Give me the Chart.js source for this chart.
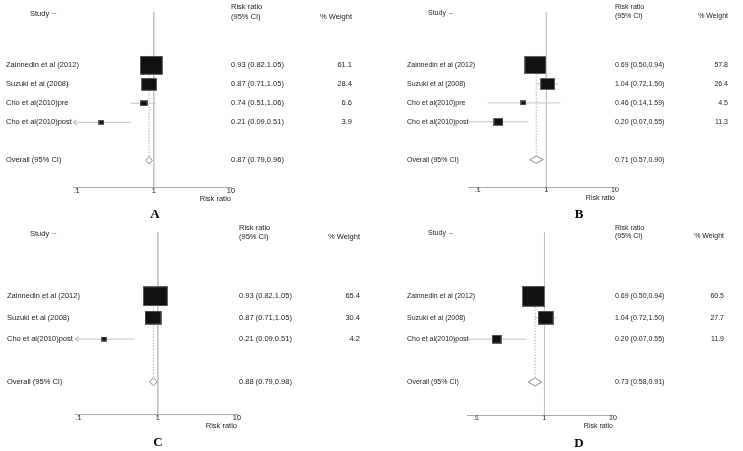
<!DOCTYPE html>
<html>
<head>
<meta charset="utf-8">
<script src="https://cdn.jsdelivr.net/npm/chart.js@4.4.1/dist/chart.umd.min.js"></script>
<style>
  body { margin: 0; background: #fff; }
  #wrap { position: relative; width: 743px; height: 451px; }
  canvas { position: absolute; }
</style>
</head>
<body>
<div id="wrap">
  <canvas id="pA" width="380" height="225" style="left:0;top:0"></canvas>
  <canvas id="pB" width="363" height="225" style="left:380px;top:0"></canvas>
  <canvas id="pC" width="380" height="226" style="left:0;top:225px"></canvas>
  <canvas id="pD" width="363" height="226" style="left:380px;top:225px"></canvas>
</div>
<script>
// ==================== DATA ====================
const tickValues = [0.1, 1, 10];
const tickLabels = ['.1', '1', '10'];
const overallLabel = 'Overall (95% CI)';

const studiesA = ['Zainnedin et al (2012)', 'Suzuki et al (2008)', 'Cho et al(2010)pre', 'Cho et al(2010)post'];
const rrA = [0.93, 0.87, 0.74, 0.21];
const lowA = [0.82, 0.71, 0.51, 0.09];
const highA = [1.05, 1.05, 1.06, 0.51];
const weightA = [61.1, 28.4, 6.6, 3.9];
const overallA = [0.87, 0.79, 0.96];

const studiesB = ['Zainnedin et al (2012)', 'Suzuki et al (2008)', 'Cho et al(2010)pre', 'Cho et al(2010)post'];
const rrB = [0.69, 1.04, 0.46, 0.20];
const lowB = [0.50, 0.72, 0.14, 0.07];
const highB = [0.94, 1.50, 1.59, 0.55];
const weightB = [57.8, 26.4, 4.5, 11.3];
const overallB = [0.71, 0.57, 0.90];

const studiesC = ['Zainnedin et al (2012)', 'Suzuki et al (2008)', 'Cho et al(2010)post'];
const rrC = [0.93, 0.87, 0.21];
const lowC = [0.82, 0.71, 0.09];
const highC = [1.05, 1.05, 0.51];
const weightC = [65.4, 30.4, 4.2];
const overallC = [0.88, 0.79, 0.98];

const studiesD = ['Zainnedin et al (2012)', 'Suzuki et al (2008)', 'Cho et al(2010)post'];
const rrD = [0.69, 1.04, 0.20];
const lowD = [0.50, 0.72, 0.07];
const highD = [0.94, 1.50, 0.55];
const weightD = [60.5, 27.7, 11.9];
const overallD = [0.73, 0.58, 0.91];

// ==================== PANEL LAYOUT ====================
const panels = [
  { id: 'pA', letter: 'A', studies: studiesA, rr: rrA, low: lowA, high: highA, weight: weightA, overall: overallA,
    area: [73, 231, 12, 187], xMin: 0.09, yRange: [-2.8, 6.4], font: 7.5,
    nameX: 6, ciX: 231, wtX: 352, studyX: 30, letterX: 155, letterY: 215, box: [2.94, 2.43], arrow: true },
  { id: 'pB', letter: 'B', studies: studiesB, rr: rrB, low: lowB, high: highB, weight: weightB, overall: overallB,
    area: [88, 235, 12, 186], xMin: 0.072, yRange: [-2.8, 6.45], font: 7,
    nameX: 27, ciX: 235, wtX: 348, studyX: 48, letterX: 199, letterY: 215, box: [2.85, 2.37], arrow: false },
  { id: 'pC', letter: 'C', studies: studiesC, rr: rrC, low: lowC, high: highC, weight: weightC, overall: overallC,
    area: [75, 237, 7, 189], xMin: 0.09, yRange: [-3, 5.5], font: 7.5,
    nameX: 7, ciX: 239, wtX: 360, studyX: 30, letterX: 158, letterY: 218, box: [3.09, 2.47], arrow: true },
  { id: 'pD', letter: 'D', studies: studiesD, rr: rrD, low: lowD, high: highD, weight: weightD, overall: overallD,
    area: [87, 233, 7, 189], xMin: 0.074, yRange: [-3, 5.55], font: 7,
    nameX: 27, ciX: 235, wtX: 344, studyX: 48, letterX: 199, letterY: 219, box: [3.0, 2.7], arrow: false }
];

const FONT = '"Liberation Sans", Arial, sans-serif';
const LINE_GREY = '#c4c4c4';
const TEXT = '#222';

// black study box, sized from the weight
function boxImage(w, h) {
  const c = document.createElement('canvas');
  c.width = Math.max(2, Math.round(w));
  c.height = Math.max(2, Math.round(h));
  const g = c.getContext('2d');
  g.fillStyle = '#666';
  g.fillRect(0, 0, c.width, c.height);
  g.fillStyle = '#111';
  g.fillRect(1, 1, c.width - 2, c.height - 2);
  return c;
}

// open "<" marker for a truncated CI
function chevronImage() {
  const c = document.createElement('canvas');
  c.width = 10; c.height = 7;
  const g = c.getContext('2d');
  g.strokeStyle = '#aaa';
  g.lineWidth = 1;
  g.beginPath();
  g.moveTo(9, 1); g.lineTo(5, 3.5); g.lineTo(9, 6);
  g.stroke();
  return c;
}

function fmtCI(r, lo, hi) {
  return r.toFixed(2) + ' (' + lo.toFixed(2) + ',' + hi.toFixed(2) + ')';
}

function textPlugin(p) {
  return {
    id: 'forestText' + p.letter,
    afterDraw(chart) {
      const ctx = chart.ctx;
      const y = chart.scales.y;
      const top = chart.chartArea.top;
      ctx.save();
      ctx.font = p.font + 'px ' + FONT;
      ctx.fillStyle = TEXT;
      ctx.textBaseline = 'middle';

      // headers
      ctx.textAlign = 'left';
      ctx.fillText('Study', p.studyX, top + 1.5);
      const sw = ctx.measureText('Study').width;
      ctx.strokeStyle = '#aaa';
      ctx.lineWidth = 1;
      ctx.beginPath();
      ctx.moveTo(p.studyX + sw + 3, top + 1.5);
      ctx.lineTo(p.studyX + sw + 7, top + 1.5);
      ctx.stroke();
      ctx.fillText('Risk ratio', p.ciX, Math.max(top - 5, 3));
      ctx.fillText('(95% CI)', p.ciX, top + 4.5);
      ctx.textAlign = 'right';
      ctx.fillText('% Weight', p.wtX, top + 4.5);

      // study rows
      p.studies.forEach((s, i) => {
        const py = y.getPixelForValue(i);
        ctx.textAlign = 'left';
        ctx.fillText(s, p.nameX, py);
        ctx.fillText(fmtCI(p.rr[i], p.low[i], p.high[i]), p.ciX, py);
        ctx.textAlign = 'right';
        ctx.fillText(p.weight[i].toFixed(1), p.wtX, py);
      });

      // overall row
      const oy = y.getPixelForValue(p.studies.length + 1);
      ctx.textAlign = 'left';
      ctx.fillText(overallLabel, p.nameX, oy);
      ctx.fillText(fmtCI(p.overall[0], p.overall[1], p.overall[2]), p.ciX, oy);

      // panel letter
      ctx.font = 'bold 13px "Liberation Serif", "Times New Roman", serif';
      ctx.fillStyle = '#000';
      ctx.textAlign = 'center';
      ctx.fillText(p.letter, p.letterX, p.letterY);
      ctx.restore();
    }
  };
}

// ==================== BUILD CHARTS ====================
panels.forEach(p => {
  const canvas = document.getElementById(p.id);
  const W = canvas.width, H = canvas.height;
  const n = p.studies.length;
  const oRow = n + 1;
  const dh = 0.19; // diamond half height, in rows
  const datasets = [];

  // reference line at RR = 1
  datasets.push({
    data: [{ x: 1, y: p.yRange[0] }, { x: 1, y: p.yRange[1] }],
    showLine: true, borderColor: LINE_GREY, borderWidth: 1, pointRadius: 0, order: 5
  });

  // dotted line at pooled estimate
  datasets.push({
    data: [{ x: p.overall[0], y: -0.5 }, { x: p.overall[0], y: oRow - dh }],
    showLine: true, borderColor: '#b0b0b0', borderWidth: 1, borderDash: [1.5, 1.5], pointRadius: 0, order: 4
  });

  // confidence intervals
  p.studies.forEach((s, i) => {
    datasets.push({
      data: [{ x: p.low[i], y: i }, { x: p.high[i], y: i }],
      showLine: true, borderColor: LINE_GREY, borderWidth: 1, pointRadius: 0, clip: false, order: 3
    });
  });

  // truncation arrow
  if (p.arrow) {
    const idx = p.low.indexOf(Math.min(...p.low));
    datasets.push({
      data: [{ x: p.low[idx], y: idx }],
      pointStyle: chevronImage(), pointRadius: 3, clip: false, order: 2
    });
  }

  // overall diamond
  datasets.push({
    data: [
      { x: p.overall[1], y: oRow }, { x: p.overall[0], y: oRow - dh },
      { x: p.overall[2], y: oRow }, { x: p.overall[0], y: oRow + dh },
      { x: p.overall[1], y: oRow }
    ],
    showLine: true, borderColor: '#8a8a8a', borderWidth: 1, pointRadius: 0, fill: false, order: 1
  });

  // weighted boxes
  datasets.push({
    data: p.rr.map((r, i) => ({ x: r, y: i })),
    pointStyle: p.weight.map(w => boxImage(p.box[0] * Math.sqrt(w), p.box[1] * Math.sqrt(w))),
    pointRadius: 3, order: 0
  });

  new Chart(canvas, {
    type: 'scatter',
    data: { datasets },
    options: {
      responsive: false,
      animation: false,
      events: [],
      devicePixelRatio: 1,
      layout: {
        padding: { left: p.area[0], right: W - p.area[1], top: p.area[2], bottom: H - p.area[3] - 16 }
      },
      plugins: { legend: { display: false }, tooltip: { enabled: false } },
      scales: {
        x: {
          type: 'logarithmic',
          min: p.xMin,
          max: 10,
          afterBuildTicks: scale => { scale.ticks = tickValues.map(v => ({ value: v })); },
          ticks: {
            callback: (v, i) => tickLabels[i],
            color: TEXT,
            padding: -4,
            maxRotation: 0,
            autoSkip: false,
            font: { family: FONT, size: p.font }
          },
          grid: { drawOnChartArea: false, drawTicks: true, tickLength: 3, color: '#aaa' },
          border: { display: true, color: '#aaa', width: 1 },
          title: {
            display: true,
            text: 'Risk ratio',
            align: 'end',
            color: TEXT,
            padding: { top: 3, bottom: 0 },
            font: { family: FONT, size: p.font }
          }
        },
        y: {
          display: false,
          reverse: true,
          min: p.yRange[0],
          max: p.yRange[1]
        }
      }
    },
    plugins: [textPlugin(p)]
  });
});
</script>
</body>
</html>
